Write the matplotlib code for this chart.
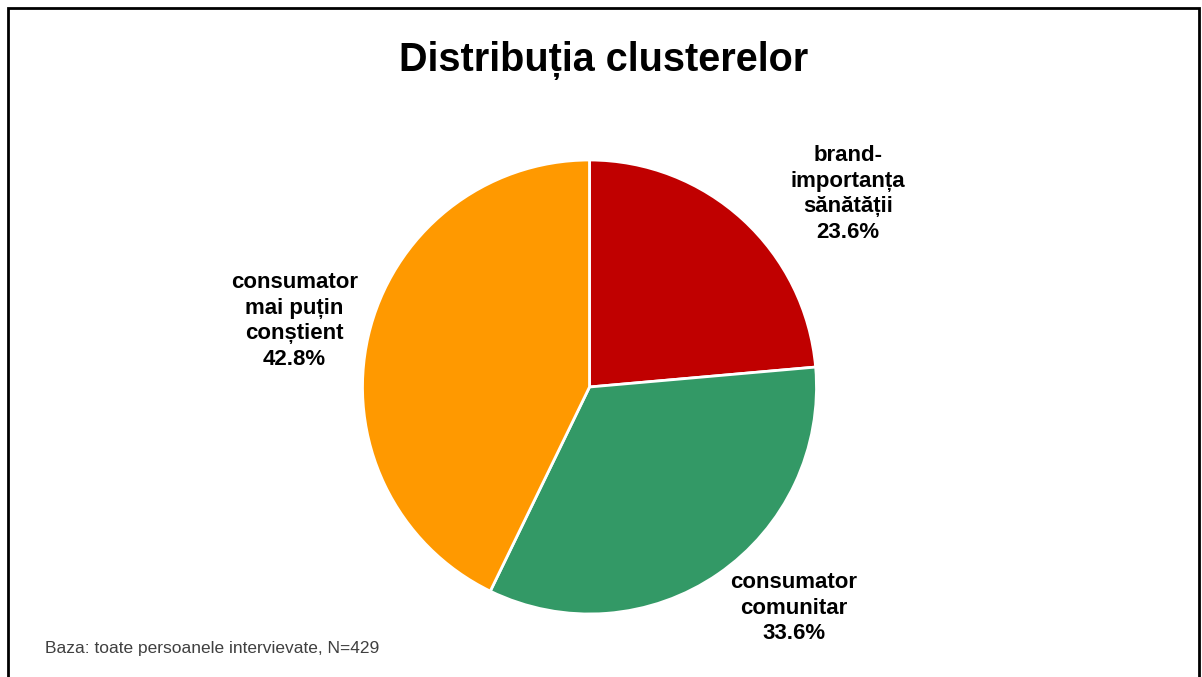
import matplotlib.pyplot as plt
from matplotlib.patches import Rectangle

plt.rcParams["font.family"] = ["Liberation Sans", "DejaVu Sans"]

# ---- data ----
labels = ["brand-\nimportanța\nsănătății", "consumator\ncomunitar", "consumator\nmai puțin\nconștient"]
values = [23.6, 33.6, 42.8]
colors = ["#C00000", "#339966", "#FF9900"]
label_pos = [(1.14, 0.85), (0.90, -0.975), (-1.30, 0.29)]

fig = plt.figure(figsize=(12.02, 6.77), dpi=100)

# outer frame
fig.patches.append(Rectangle((8 / 1202, -0.01), 1191 / 1202, 1 - 8 / 677 + 0.01,
                             transform=fig.transFigure, fill=False,
                             edgecolor="black", linewidth=2))

fig.text(604 / 1202, 1 - 60 / 677, "Distribuția clusterelor", ha="center", va="center",
         fontsize=28.5, fontweight="bold")

ax = fig.add_axes([362 / 1202, 63 / 677, 455 / 1202, 454 / 677])
ax.pie(values, colors=colors, startangle=90, counterclock=False,
       wedgeprops=dict(edgecolor="white", linewidth=2))
ax.set_xlim(-1, 1)
ax.set_ylim(-1, 1)
ax.set_aspect("equal")
ax.axis("off")

for lab, v, (x, y) in zip(labels, values, label_pos):
    ax.text(x, y, f"{lab}\n{v:.1f}%", ha="center", va="center", fontsize=16,
            fontweight="bold", linespacing=1.28, clip_on=False)

fig.text(45 / 1202, 1 - 648 / 677, "Baza: toate persoanele intervievate, N=429",
         ha="left", va="center", fontsize=12.5, color="#404040")

fig.savefig("out.png", dpi=100)
